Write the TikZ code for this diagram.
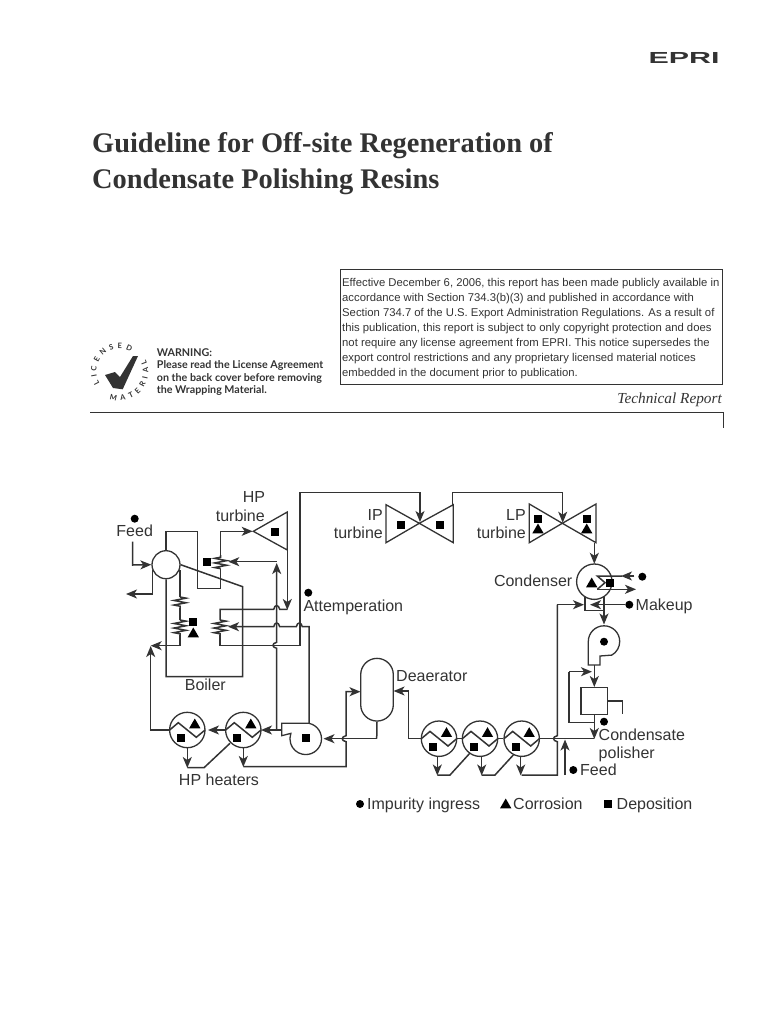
\documentclass[tikz,border=0pt]{standalone}
\usepackage{fontspec}
\setmainfont{Liberation Sans}
\newfontfamily\titlefont{Liberation Serif}
\newfontfamily\warnfont{Lato}
\usetikzlibrary{arrows.meta,shapes.geometric,shapes.misc,decorations.pathmorphing,decorations.text}
\definecolor{ink}{HTML}{333333}
\tikzset{
  pipe/.style={draw=ink, line width=1.5pt},
  unit/.style={draw=ink, line width=1.3pt, fill=white, inner sep=0pt},
  coil/.style={pipe, decorate, decoration={zigzag, segment length=4.6pt, amplitude=6pt}},
  sq/.style={fill=black, minimum size=8pt, inner sep=0pt},
  tri/.style={regular polygon, regular polygon sides=3, fill=black, minimum size=13pt, inner sep=0pt},
  dot/.style={circle, fill=black, minimum size=8pt, inner sep=0pt},
  lab/.style={text=ink, font=\fontsize{16}{16}\selectfont, inner sep=0pt},
  warn/.style={text=ink, anchor=base west, inner sep=0pt, font=\warnfont\bfseries\fontsize{10.7}{11}\selectfont}
}
% hop of a line going left, hop of a line going down
\newcommand{\hoph}[2]{-- (#1+3,#2) .. controls (#1+2,#2-5) and (#1-2,#2-5) .. (#1-3,#2)}
\newcommand{\hopv}[2]{-- (#1,#2-3) .. controls (#1-5,#2-2) and (#1-5,#2+2) .. (#1,#2+3)}
\begin{document}
\begin{tikzpicture}[x=1pt, y=-1pt, >={Stealth[length=11pt,width=9pt,inset=3pt]}]
\useasboundingbox (0,0) rectangle (768,1024);

% cover
\node[text=ink, anchor=base west, inner sep=0pt, font=\titlefont\bfseries\fontsize{28.4}{29}\selectfont] (title1) at (92,153) {Guideline for Off-site Regeneration of};
\node[text=ink, anchor=base west, inner sep=0pt, font=\titlefont\bfseries\fontsize{28.4}{29}\selectfont] (title2) at (92,189) {Condensate Polishing Resins};
\node[text=ink, anchor=base east, inner sep=0pt, xscale=1.9, transform shape, font=\bfseries\fontsize{16}{16}\selectfont] (logo) at (720,63.3) {EPRI};
\draw[ink, line width=1pt] (340.5,269.5) rectangle (722.3,384);
\node[anchor=north west, inner sep=0pt, align=left, text=ink, font=\fontsize{11.3}{15}\selectfont] (notice) at (342,278.5) {Effective December 6, 2006, this report has been made publicly available in\\accordance with Section 734.3(b)(3) and published in accordance with\\Section 734.7 of the U.S. Export Administration Regulations. As a result of\\this publication, this report is subject to only copyright protection and does\\not require any license agreement from EPRI. This notice supersedes the\\export control restrictions and any proprietary licensed material notices\\embedded in the document prior to publication.};
\node[text=ink, anchor=base east, inner sep=0pt, font=\titlefont\itshape\fontsize{15.3}{16}\selectfont] (report) at (722,403) {Technical Report};
\draw[ink, line width=1pt] (90,412.7) -- (723.3,412.7) -- (723.3,428);

% warning
\fill[ink] (105,375) -- (115,372) -- (120,377) -- (133,356) -- (138,356) -- (122.7,389.3) -- (113,388) -- cycle;
\path[postaction={decorate, decoration={text along path, text align={fit to path}, text={|\warnfont\bfseries\fontsize{7.5}{8}\selectfont\color{ink}|LICENSED}}}] (119.3,371.7) ++(212:23pt) arc[start angle=212, end angle=60, radius=23pt];
\path[postaction={decorate, decoration={text along path, text align={fit to path}, text={|\warnfont\bfseries\fontsize{7.5}{8}\selectfont\color{ink}|MATERIAL}}}] (119.3,371.7) ++(250:29pt) arc[start angle=250, end angle=385, radius=29pt];
\node[warn] (w1) at (156.7,356.5) {WARNING:};
\node[warn] (w2) at (156.7,368.8) {Please read the License Agreement};
\node[warn] (w3) at (156.7,381) {on the back cover before removing};
\node[warn] (w4) at (156.7,393.2) {the Wrapping Material.};

% boiler
\node[unit, circle, minimum size=28pt] (drum) at (166,564.7) {};
\draw[pipe] (drum.north) -- (166,531.3) -- (197.3,531.3) -- (197.3,588.7) -- (220.7,588.7) -- (220.7,568.7);
\draw[coil] (220.7,568.7) -- (220.7,555);
\draw[pipe, ->] (220.7,555) -- (220.7,531.3) -- (252.7,531.3);
\draw[pipe] (drum.south) -- (166,676.7) -- (242.7,676.7) -- (242.7,586.7) -- (drum.east);
\draw[pipe] (180,570) -- (180,597);
\draw[coil] (180,597) -- (180,608);
\draw[pipe] (180,608) -- (180,620);
\draw[coil] (180,620) -- (180,635);
\draw[pipe, ->] (180,635) -- (180,645.7) -- (150.7,645.7);
\draw[pipe, <-] (drum.west) -- (132.7,565) -- (132.7,541.7);
\draw[pipe, ->] (152.7,570) -- (152.7,594) -- (126,594);

% turbines
\draw[unit, fill=none] (253.3,531.3) -- (287.3,512) -- (287.3,550) -- cycle;
\draw[unit, fill=none] (419.3,523.3) -- (386,504.7) -- (386,542.7) -- cycle;
\draw[unit, fill=none] (419.3,523.3) -- (453.3,504.7) -- (453.3,542.7) -- cycle;
\draw[unit, fill=none] (562.3,523.3) -- (529.3,504) -- (529.3,542.7) -- cycle;
\draw[unit, fill=none] (562.3,523.3) -- (596,504) -- (596,542.7) -- cycle;

% steam lines
\draw[pipe, ->] (287.3,550) -- (287.3,610);
\draw[pipe] (287.3,609.3) \hoph{276.7}{609.3} -- (220,609.3) -- (220,620);
\draw[coil] (220,620) -- (220,635);
\draw[pipe, ->] (220,635) -- (220,645.3) -- (300,645.3) -- (300,492.7) -- (420,492.7) -- (420,522);
\draw[pipe, ->] (309,723.3) -- (309,626.7) \hoph{299.3}{626.7} \hoph{276.7}{626.7} -- (228,626.7);
\draw[pipe, <-] (276.7,563) \hopv{276.7}{645.3} -- (276.7,730);
\draw[pipe, ->] (276.7,561.7) -- (228.3,561.7);
\draw[pipe, ->] (452.3,504.7) -- (452.3,492.7) -- (562.7,492.7) -- (562.7,522.7);
\draw[pipe, ->] (594.3,542.7) -- (594.3,563.8);

% condenser
\node[unit, circle, minimum size=35.4pt] (condenser) at (594.3,581.7) {};
\draw[pipe] (585,597) -- (585,610.7) -- (604,610.7) -- (604,597);
\draw[pipe, ->] (634.3,576) -- (621,576);
\draw[pipe] (622,576) -- (597.3,576) -- (605,582.7) -- (597.3,589.3);
\draw[pipe, ->] (597.3,589.3) -- (636,589.3);
\draw[pipe, ->] (625,604.7) -- (590,604.7);
\draw[pipe, ->] (557.3,604.7) -- (584,604.7);
\draw[pipe] (557.3,604.7) \hopv{557.3}{738.7} -- (557.3,775) -- (521.7,775);
\draw[pipe, ->] (604,610.7) -- (604,624.5);

% condensate pump
\draw[unit, fill=none] (588.3,641.5) arc[start angle=180, end angle=-60, radius=15.7pt] -- (600,656) -- (600,665) -- (588.3,665) -- cycle;
\draw[pipe, ->] (594.3,665) -- (594.3,687);
\draw[pipe, ->] (569,671.7) -- (592,671.7);
\draw[pipe] (569,671.7) -- (569,722.7) -- (594.3,722.7);

% polisher
\node[unit, minimum size=26.7pt] (polisher) at (594.3,701) {};
\draw[pipe] (polisher.east) -- (622.7,701) -- (622.7,714.3);
\draw[pipe, ->] (polisher.south) -- (594.3,739);
\draw[pipe, ->] (565,775) -- (565,739.5);

% feedwater heaters
\foreach \n/\x/\y in {a/439/738.7, b/480/738.7, c/521.7/738.7, d/187.3/730, e/243.3/730} {
  \node[unit, circle, minimum size=35.4pt] (heater\n) at (\x,\y) {};
  \draw[pipe] (\x-17.7,\y) -- (\x-9,\y-7.3) -- (\x+9,\y+7.3) -- (\x+17.7,\y);
  \node[tri] (tri\n) at (\x+7.5,\y-5) {};
  \node[sq] (sq\n) at (\x-6,\y+8) {};
}
\draw[pipe] (594.3,738.7) -- (heaterc.east);
\draw[pipe] (heaterc.west) -- (heaterb.east);
\draw[pipe] (heaterb.west) -- (heatera.east);
\draw[pipe, ->] (heatera.west) -- (408.3,738.7) -- (408.3,691) -- (393.6,691);
\draw[pipe, ->] (437.3,756.4) -- (437.3,775.5);
\draw[pipe] (437.3,775) -- (450,775) -- (470,753);
\draw[pipe, ->] (481.7,756.4) -- (481.7,775.5);
\draw[pipe] (481.7,775) -- (495,775) -- (513.3,755);
\draw[pipe, ->] (520.7,756.4) -- (520.7,775.5);
\draw[pipe, ->] (187.3,747.7) -- (187.3,768);
\draw[pipe] (187.3,767.7) -- (204,767.7) -- (230,743.3);
\draw[pipe, ->] (243.3,747.7) -- (243.3,767);

% deaerator and feed pump
\node[unit, rounded rectangle, minimum width=62.7pt, minimum height=32.6pt, rotate=90] (deaerator) at (377,689.7) {};
\draw[pipe] (deaerator.west) -- (376.7,738.7);
\draw[pipe, ->] (376.7,738.7) -- (323.5,738.7);
\draw[pipe, <-] (360.5,691.7) -- (346,691.7) \hopv{346}{738.7} -- (346,766.7) -- (243.3,766.7);
\draw[unit, fill=none] (309,723.3) arc[start angle=78, end angle=-200, radius=15.8pt] -- (281.7,735.7) -- (281.7,723.3) -- cycle;
\draw[pipe, ->] (281.7,730) -- (261,730);
\draw[pipe, ->] (heatere.west) -- (208,730);
\draw[pipe, ->] (heaterd.west) -- (150.7,730) -- (150.7,646);

% markers
\node[sq] (sqhp) at (275,532) {};
\node[sq] (sqsh) at (207.3,562) {};
\node[sq] (sqbo) at (193.3,622.3) {};
\node[tri] (tribo) at (193.3,634) {};
\node[sq] (sqip) at (400.7,525) {};
\node[sq] (sqiq) at (439.7,525) {};
\node[sq] (sqlp) at (538,519.3) {};
\node[tri] (trilp) at (538,530) {};
\node[sq] (sqlq) at (586.7,519.3) {};
\node[tri] (trilq) at (586.7,530) {};
\node[tri] (tricd) at (591.7,584) {};
\node[sq] (sqcd) at (610,583.3) {};
\node[sq] (sqfp) at (306.3,737.7) {};
\node[dot] (dotcp) at (604,641.7) {};
\node[dot] (dotfd) at (134.7,518.7) {};
\node[dot] (dotat) at (308.3,592.7) {};
\node[dot] (dotcd) at (642.3,576.7) {};
\node[dot] (dotmk) at (629.3,604.7) {};
\node[dot] (dotpo) at (604,721.7) {};
\node[dot] (dotfw) at (573.3,770) {};

% labels
\node[lab, anchor=base] (lfeed) at (134.7,536.7) {Feed};
\node[lab, anchor=base] (lhp) at (254,502) {HP};
\node[lab, anchor=base] (lhpt) at (240.3,521.7) {turbine};
\node[lab, anchor=base west] (lattemp) at (303.3,611.7) {Attemperation};
\node[lab, anchor=base east] (lip) at (383,520) {IP};
\node[lab, anchor=base east] (lipt) at (383,538.3) {turbine};
\node[lab, anchor=base east] (llp) at (526,520) {LP};
\node[lab, anchor=base east] (llpt) at (526,538.3) {turbine};
\node[lab, anchor=base east] (lcond) at (572.5,586) {Condenser};
\node[lab, anchor=base west] (lmakeup) at (635.5,610) {Makeup};
\node[lab, anchor=base west] (ldeaer) at (396,681.7) {Deaerator};
\node[lab, anchor=base] (lboiler) at (205.3,690.7) {Boiler};
\node[lab, anchor=base] (lheaters) at (219,785) {HP heaters};
\node[lab, anchor=base west] (lpol1) at (598.5,740) {Condensate};
\node[lab, anchor=base west] (lpol2) at (598.5,758.3) {polisher};
\node[lab, anchor=base west] (lfw) at (580,775) {Feed};

% legend
\node[dot] (legdot) at (360,804) {};
\node[lab, anchor=base west] (leg1) at (367,809.3) {Impurity ingress};
\node[tri] (legtri) at (505.7,805) {};
\node[lab, anchor=base west] (leg2) at (513,809.3) {Corrosion};
\node[sq] (legsq) at (608.3,804) {};
\node[lab, anchor=base west] (leg3) at (616.5,809.3) {Deposition};
\end{tikzpicture}
\end{document}
